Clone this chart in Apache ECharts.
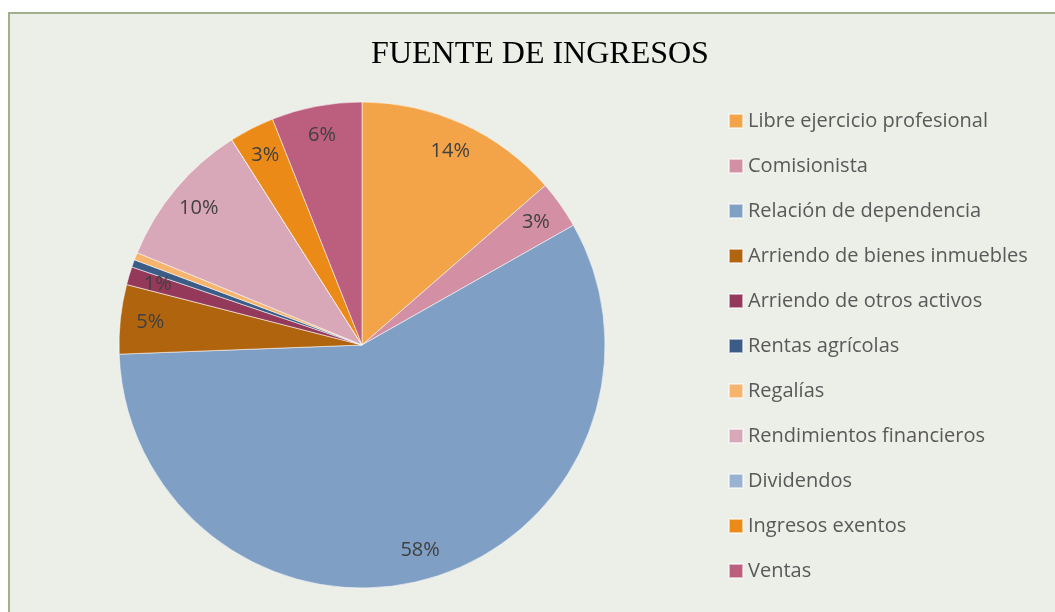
<!DOCTYPE html>
<html>
<head>
<meta charset="utf-8">
<script src="https://cdn.jsdelivr.net/npm/echarts@6/dist/echarts.min.js"></script>
<style>
  html, body { margin: 0; padding: 0; background: #fff; overflow: hidden; }
  #chart {
    position: absolute; left: 8px; top: 12px;
    width: 1045px; height: 598px;
    border-left: 2px solid #9fb08a; border-top: 2px solid #9fb08a;
    background: #eceee8;
  }
</style>
</head>
<body>
<div id="chart"></div>
<script type="text/javascript">
// categorias y valores (porcentaje aproximado)
var categories = ['Libre ejercicio profesional', 'Comisionista', 'Relación de dependencia',
  'Arriendo de bienes inmuebles', 'Arriendo de otros activos', 'Rentas agrícolas',
  'Regalías', 'Rendimientos financieros', 'Dividendos', 'Ingresos exentos', 'Ventas'];
var values = [13.6, 3.2, 57.6, 4.6, 1.2, 0.5, 0.5, 9.8, 0, 3.0, 6.0];
var showLabel = [true, true, true, true, true, false, false, true, false, true, true];
var colors = ['#f4a448', '#d38fa4', '#7f9fc4', '#b0640e', '#94395a', '#3b5c86',
  '#f6b46c', '#d9a8b8', '#9ab2d2', '#eb8a16', '#bc5e7e'];

var myChart = echarts.init(document.getElementById('chart'));

var pieData = categories.map(function (c, i) {
  return { name: c, value: values[i], itemStyle: { color: colors[i] } };
});
// anillo transparente solo para poner las etiquetas cerca del borde
var labelData = categories.map(function (c, i) {
  return { name: c, value: values[i], label: { show: showLabel[i] } };
});

var option = {
  backgroundColor: '#eceee8',
  color: colors,
  title: {
    text: 'FUENTE DE INGRESOS',
    left: 525, top: 20, textAlign: 'center',
    textStyle: { fontFamily: 'Liberation Serif', fontWeight: 'normal', fontSize: 32, color: '#000' }
  },
  legend: {
    orient: 'vertical',
    left: 718, top: 97,
    padding: 0,
    icon: 'rect', itemWidth: 14, itemHeight: 14,
    itemGap: 25,
    data: categories,
    textStyle: { fontFamily: 'Open Sans', fontSize: 20, color: '#595959' }
  },
  series: [{
    type: 'pie',
    center: [352, 331],
    radius: [0, 243],
    startAngle: 90,
    clockwise: true,
    animation: false,
    label: { show: false },
    labelLine: { show: false },
    itemStyle: { borderColor: 'rgba(255,255,255,0.55)', borderWidth: 1 },
    emphasis: { disabled: true },
    data: pieData
  }, {
    type: 'pie',
    center: [352, 331],
    radius: [177, 243],
    startAngle: 90,
    clockwise: true,
    animation: false,
    silent: true,
    itemStyle: { color: 'rgba(0,0,0,0)' },
    label: {
      position: 'inside',
      fontFamily: 'Open Sans', fontSize: 20, color: '#404040',
      formatter: function (p) { return Math.round(p.percent) + '%'; }
    },
    labelLine: { show: false },
    emphasis: { disabled: true },
    data: labelData
  }]
};
myChart.setOption(option);
</script>
</body>
</html>
